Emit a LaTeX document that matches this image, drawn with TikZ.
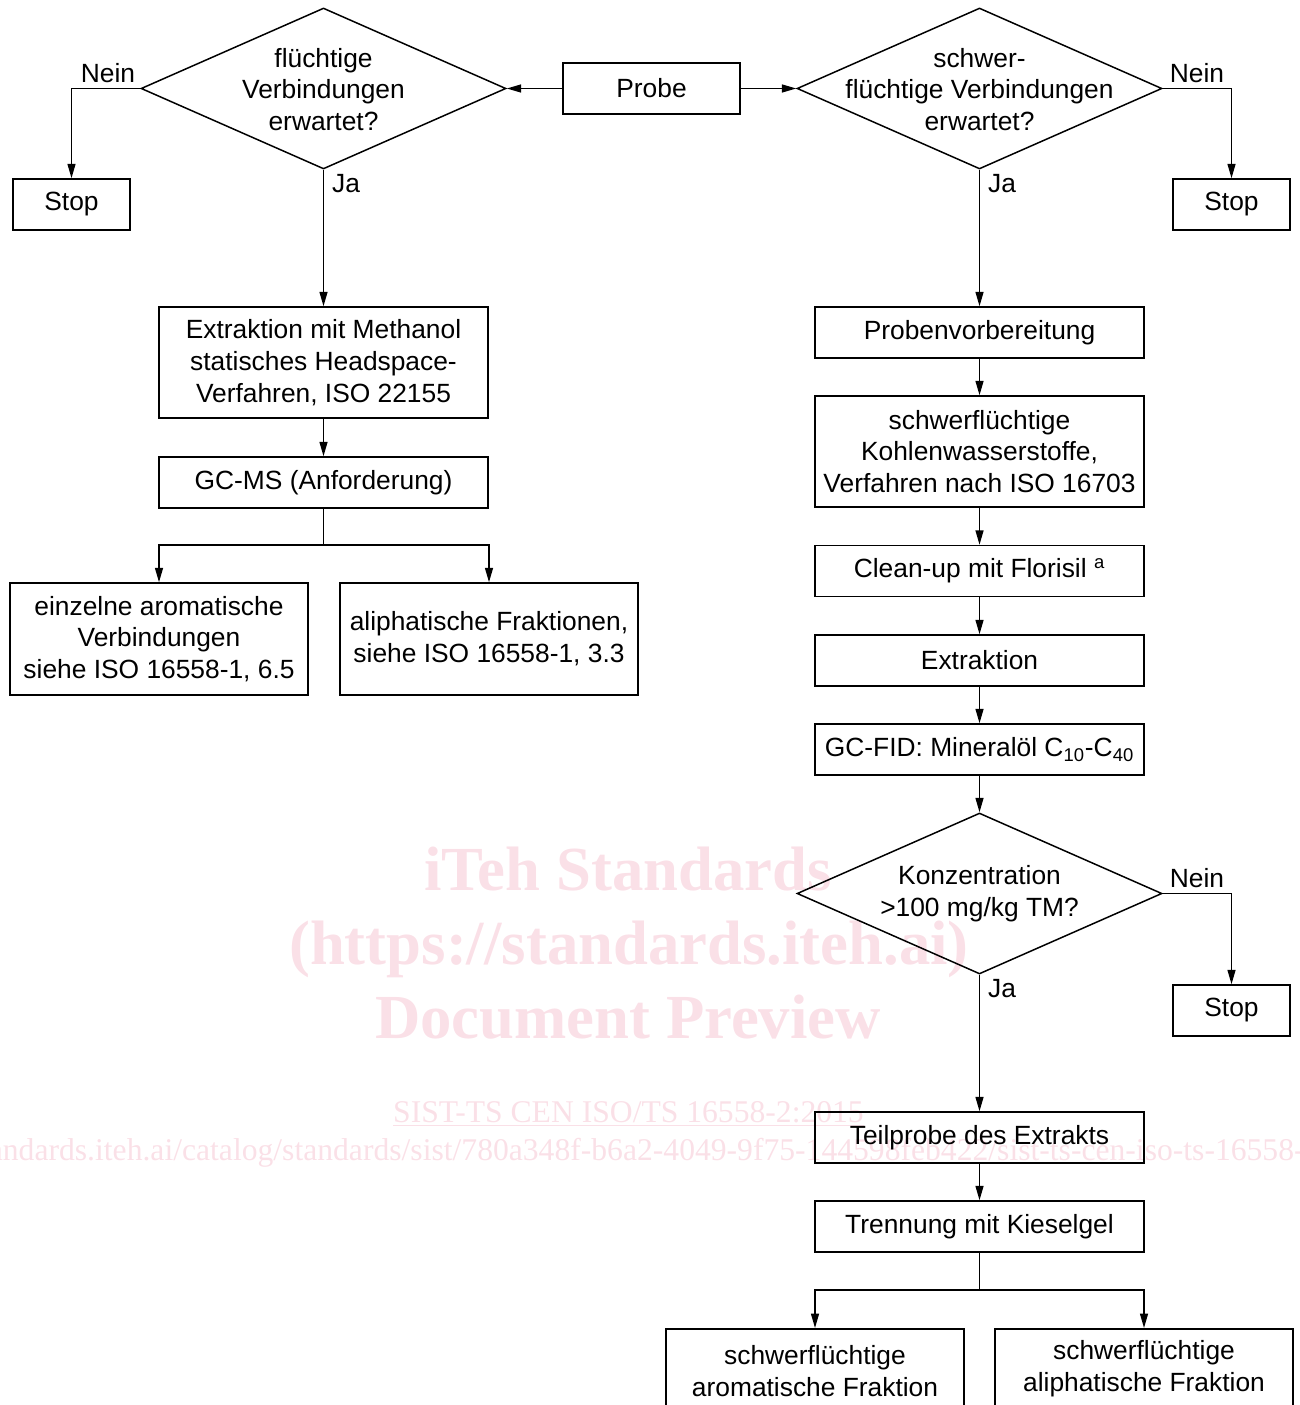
\documentclass[tikz,border=0pt]{standalone}
\usepackage{fontspec}
\setmainfont{Liberation Sans}
\newfontfamily\wmfont{Liberation Serif}
\usetikzlibrary{shapes.geometric,arrows.meta}
\definecolor{wmpink}{RGB}{250,224,231}
\tikzset{
  base/.style={draw, line width=0.85pt, align=center, inner sep=0pt,
    font=\fontsize{15}{18.1}\selectfont},
  colbox/.style={base, minimum width=6.58cm, minimum height=1.02cm},
  tallbox/.style={base, minimum width=6.58cm, minimum height=2.22cm},
  wide2/.style={base, minimum width=5.96cm, minimum height=2.24cm},
  stopbox/.style={base, minimum width=2.34cm, minimum height=1.02cm},
  decision/.style={base, diamond, shape aspect=2.27, minimum width=7.3cm, minimum height=3.22cm},
  lbl/.style={font=\fontsize{15}{18.1}\selectfont, inner sep=0pt, align=center},
  arr/.style={line width=0.85pt, -{Triangle[length=2.9mm,width=1.6mm]}},
  ln/.style={line width=0.85pt},
  wmbig/.style={text=wmpink, font=\wmfont\bfseries\fontsize{35.7}{42}\selectfont, inner sep=0pt, anchor=base},
  wmsmall/.style={text=wmpink, font=\wmfont\fontsize{18}{21}\selectfont, inner sep=0pt, anchor=base},
}
\begin{document}
\begin{tikzpicture}[x=0.02cm,y=-0.02cm]
\useasboundingbox (0,0) rectangle (1300,1405);
\clip (0,0) rectangle (1300,1405);

% watermark
\node[wmbig] (wm1) at (628,890) {iTeh Standards};
\node[wmbig] (wm2) at (629,964) {(https://standards.iteh.ai)};
\node[wmbig] (wm3) at (628,1038) {Document Preview};
\node[wmsmall] (wm4) at (628.5,1122) {\underline{SIST-TS CEN ISO/TS 16558-2:2015}};
\node[wmsmall] (wm5) at (637,1160) {https://standards.iteh.ai/catalog/standards/sist/780a348f-b6a2-4049-9f75-144598feb422/sist-ts-cen-iso-ts-16558-2-2015};

% top row
\node[base, minimum width=3.54cm, minimum height=1.02cm] (probe) at (651.5,88.5) {Probe};
\node[decision] (ld) at (323.5,88.5) {};
\node[lbl] (ldt) at (323.5,89.5) {flüchtige\\Verbindungen\\erwartet?};
\node[decision] (rd) at (979.5,88.5) {};
\node[lbl] (rdt) at (979.5,89.5) {schwer-\\flüchtige Verbindungen\\erwartet?};
\node[stopbox] (stopL) at (71.5,204.5) {Stop};
\node[stopbox] (stopR) at (1231.5,204.5) {Stop};

% left column
\node[tallbox] (ext1) at (323.5,362.5) {Extraktion mit Methanol\\statisches Headspace-\\Verfahren, ISO 22155};
\node[colbox] (gcms) at (323.5,482.5) {GC-MS (Anforderung)};
\node[wide2] (ein) at (159,639) {einzelne aromatische\\Verbindungen\\siehe ISO 16558-1, 6.5};
\node[wide2] (ali) at (489,639) {aliphatische Fraktionen,\\siehe ISO 16558-1, 3.3};
\coordinate (s1) at (323.5,545);

% right column
\node[colbox] (prep) at (979.5,332.5) {Probenvorbereitung};
\node[tallbox] (kw) at (979.5,451.5) {schwerflüchtige\\Kohlenwasserstoffe,\\Verfahren nach ISO 16703};
\node[colbox] (clean) at (979.5,571) {Clean-up mit Florisil \textsuperscript{a}};
\node[colbox] (extr) at (979.5,660.5) {Extraktion};
\node[colbox] (fid) at (979.5,749.5) {GC-FID: Mineralöl C\textsubscript{10}-C\textsubscript{40}};
\node[decision] (kd) at (979.5,893.5) {};
\node[lbl] (kdt) at (979.5,893.5) {Konzentration\\>100 mg/kg TM?};
\node[stopbox] (stop3) at (1231.5,1010.5) {Stop};
\node[colbox] (teil) at (979.5,1137.5) {Teilprobe des Extrakts};
\node[colbox] (trenn) at (979.5,1226.5) {Trennung mit Kieselgel};
\coordinate (s2) at (979.5,1290);
\node[base, minimum width=5.96cm, minimum height=2.24cm, anchor=north] (aro) at (815,1328) {};
\node[base, minimum width=5.96cm, minimum height=2.24cm, anchor=north] (alp) at (1144,1328) {};
\node[lbl] (arot) at (815,1371) {schwerflüchtige\\aromatische Fraktion};
\node[lbl] (alpt) at (1144,1369) {schwerflüchtige\\aliphatische Fraktion};

% labels
\node[lbl] (n1) at (108,73) {Nein};
\node[lbl] (j1) at (346,184) {Ja};
\node[lbl] (n2) at (1197,73) {Nein};
\node[lbl] (j2) at (1002,184) {Ja};
\node[lbl] (n3) at (1197,878) {Nein};
\node[lbl] (j3) at (1002,989) {Ja};

% connectors
\draw[arr] (probe.west) -- (ld.east);
\draw[arr] (probe.east) -- (rd.west);
\draw[arr] (ld.west) -| (stopL.north);
\draw[arr] (rd.east) -| (stopR.north);
\draw[arr] (ld.south) -- (ext1.north);
\draw[arr] (ext1.south) -- (gcms.north);
\draw[ln] (gcms.south) -- (s1);
\draw[arr] (s1) -| (ein.north);
\draw[arr] (s1) -| (ali.north);

\draw[arr] (rd.south) -- (prep.north);
\draw[arr] (prep.south) -- (kw.north);
\draw[arr] (kw.south) -- (clean.north);
\draw[arr] (clean.south) -- (extr.north);
\draw[arr] (extr.south) -- (fid.north);
\draw[arr] (fid.south) -- (kd.north);
\draw[arr] (kd.east) -| (stop3.north);
\draw[arr] (kd.south) -- (teil.north);
\draw[arr] (teil.south) -- (trenn.north);
\draw[ln] (trenn.south) -- (s2);
\draw[arr] (s2) -| (aro.north);
\draw[arr] (s2) -| (alp.north);
\end{tikzpicture}
\end{document}
